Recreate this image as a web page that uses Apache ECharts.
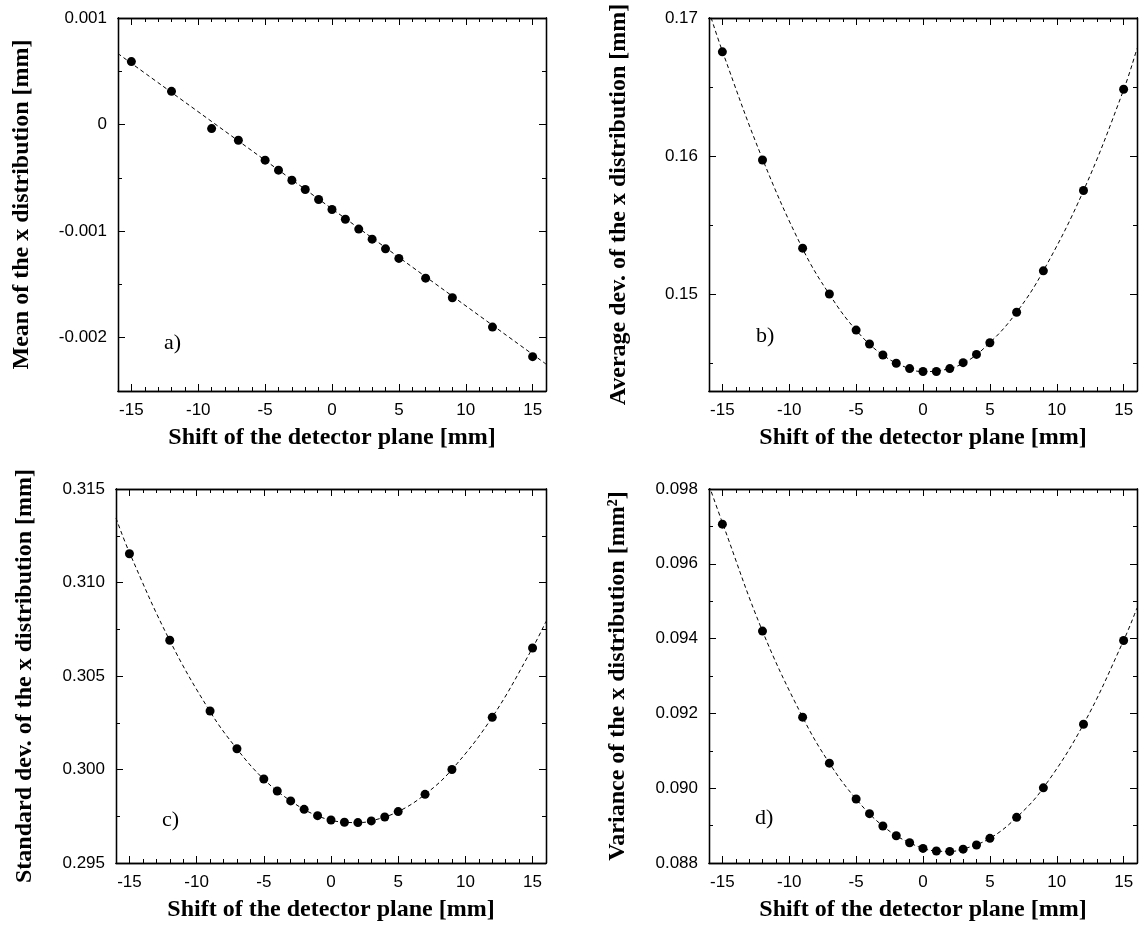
<!DOCTYPE html>
<html>
<head>
<meta charset="utf-8">
<script src="https://cdn.jsdelivr.net/npm/echarts@6/dist/echarts.min.js"></script>
<style>
  html, body { margin: 0; background: #fff; }
  #chart { width: 1139px; height: 927px; }
</style>
</head>
<body>
<div id="chart"></div>
<script>
// measured shift positions [mm]
const shift = [-15, -12, -9, -7, -5, -4, -3, -2, -1, 0, 1, 2, 3, 4, 5, 7, 9, 12, 15];

// a) mean of x distribution
const meanX = [0.000591, 0.000312, -0.000038, -0.000147, -0.000334, -0.000428, -0.000522, -0.000609,
  -0.000703, -0.000797, -0.000888, -0.000981, -0.001075, -0.001166, -0.001256, -0.001441, -0.001625,
  -0.0019, -0.002178];
const meanFitX = [-16, 16];
const meanFitY = [0.000666, -0.002247];

// b) average deviation
const avgDev = [0.16755, 0.15972, 0.15334, 0.15002, 0.14741, 0.1464, 0.14561, 0.14501, 0.14462, 0.14441,
  0.14441, 0.14462, 0.14505, 0.14565, 0.14649, 0.1487, 0.1517, 0.15751, 0.16484];
const avgFitX = [-16, -15, -12, -9, -7, -5, -3, -1, 0, 1, 3, 5, 7, 9, 12, 15, 16];
const avgFitY = [0.1705, 0.1676, 0.1598, 0.1533, 0.15, 0.1474, 0.1456, 0.1446, 0.1444, 0.14445, 0.145,
  0.1465, 0.1487, 0.1517, 0.1575, 0.1648, 0.1678];

// c) standard deviation
const stdDev = [0.31154, 0.30691, 0.30313, 0.30111, 0.29949, 0.29885, 0.29832, 0.29787, 0.29753, 0.2973,
  0.29718, 0.29716, 0.29725, 0.29746, 0.29775, 0.29867, 0.3, 0.30279, 0.3065];
const stdFitX = [-16, -15, -12, -9, -7, -5, -3, -1, 1, 2, 3, 5, 7, 9, 12, 15, 16];
const stdFitY = [0.31345, 0.3116, 0.3069, 0.3031, 0.3011, 0.29948, 0.29832, 0.29752, 0.29718, 0.29716,
  0.29725, 0.29775, 0.29867, 0.3, 0.3028, 0.3065, 0.30792];

// d) variance
const variance = [0.09706, 0.0942, 0.0919, 0.09067, 0.08971, 0.08932, 0.08899, 0.08873, 0.08854, 0.08839,
  0.08832, 0.08831, 0.08837, 0.08848, 0.08866, 0.08922, 0.09001, 0.09171, 0.09395];
const varFitX = [-16, -15, -12, -9, -7, -5, -3, -1, 1, 2, 3, 5, 7, 9, 12, 15, 16];
const varFitY = [0.0981, 0.0971, 0.0942, 0.0919, 0.09067, 0.08971, 0.08899, 0.08854, 0.08832, 0.08831,
  0.08837, 0.08866, 0.08922, 0.09001, 0.09171, 0.09395, 0.09482];

// tick labels
const xMajor = [-15, -10, -5, 0, 5, 10, 15];
const xMinor = [-16, -15, -14, -13, -12, -11, -10, -9, -8, -7, -6, -5, -4, -3, -2, -1, 0,
  1, 2, 3, 4, 5, 6, 7, 8, 9, 10, 11, 12, 13, 14, 15, 16];
const yMajorA = [-0.002, -0.001, 0, 0.001];
const yMinorA = [-0.0025, -0.0015, -0.0005, 0.0005];
const yMajorB = [0.15, 0.16, 0.17];
const yMinorB = [0.145, 0.155, 0.165];
const yMajorC = [0.295, 0.3, 0.305, 0.31, 0.315];
const yMinorC = [0.2975, 0.3025, 0.3075, 0.3125];
const yMajorD = [0.088, 0.09, 0.092, 0.094, 0.096, 0.098];
const yMinorD = [0.089, 0.091, 0.093, 0.095, 0.097];

const xName = 'Shift of the detector plane [mm]';

const panels = [
  { tag: 'a)', left: 118, top: 18, w: 428, h: 373, ymin: -0.0025, ymax: 0.001,
    yMajor: yMajorA, yMinor: yMinorA, fmt: v => String(+v.toFixed(4)),
    yName: 'Mean of the x distribution [mm]', yGap: 84,
    pts: meanX, fitX: meanFitX, fitY: meanFitY, tagPos: [159, 327] },
  { tag: 'b)', left: 709, top: 18, w: 428, h: 373, ymin: 0.143, ymax: 0.17,
    yMajor: yMajorB, yMinor: yMinorB, fmt: v => v.toFixed(2),
    yName: 'Average dev. of the x distribution [mm]', yGap: 78,
    pts: avgDev, fitX: avgFitX, fitY: avgFitY, tagPos: [751, 320] },
  { tag: 'c)', left: 116, top: 489, w: 430, h: 374, ymin: 0.295, ymax: 0.315,
    yMajor: yMajorC, yMinor: yMinorC, fmt: v => v.toFixed(3),
    yName: 'Standard dev. of the x distribution [mm]', yGap: 79,
    pts: stdDev, fitX: stdFitX, fitY: stdFitY, tagPos: [157, 804] },
  { tag: 'd)', left: 709, top: 489, w: 428, h: 374, ymin: 0.088, ymax: 0.098,
    yMajor: yMajorD, yMinor: yMinorD, fmt: v => v.toFixed(3),
    yName: 'Variance of the x distribution [mm\u00b2]', yGap: 79,
    pts: variance, fitX: varFitX, fitY: varFitY, tagPos: [750, 802] }
];

const nameStyle = { fontFamily: 'Liberation Serif', fontWeight: 'bold', fontSize: 24, color: '#000' };

function axis(gridIndex, pos, min, max, ticks, len, labels, fmt) {
  return {
    type: 'value', gridIndex: gridIndex, position: pos, min: min, max: max,
    splitLine: { show: false },
    axisLine: { show: true, onZero: false, lineStyle: { color: '#000', width: 1.3 } },
    axisTick: { show: true, inside: true, length: len, customValues: ticks,
      lineStyle: { color: '#000', width: 1 } },
    axisLabel: labels
      ? { show: true, customValues: labels, formatter: fmt, color: '#000',
          fontFamily: 'Liberation Sans', fontSize: 17, margin: 11 }
      : { show: false }
  };
}

const option = { animation: false, backgroundColor: '#fff', grid: [], xAxis: [], yAxis: [], series: [], title: [] };

panels.forEach((p, i) => {
  option.grid.push({ left: p.left, top: p.top, width: p.w, height: p.h });

  const xi = option.xAxis.length;
  const xMain = axis(i, 'bottom', -16, 16, xMajor, 7, xMajor, v => String(v));
  xMain.name = xName;
  xMain.nameLocation = 'middle';
  xMain.nameGap = 35;
  xMain.nameTextStyle = nameStyle;
  option.xAxis.push(xMain);
  option.xAxis.push(axis(i, 'bottom', -16, 16, xMinor, 4));
  option.xAxis.push(axis(i, 'top', -16, 16, xMajor, 7));
  option.xAxis.push(axis(i, 'top', -16, 16, xMinor, 4));

  const yi = option.yAxis.length;
  const yMain = axis(i, 'left', p.ymin, p.ymax, p.yMajor, 7, p.yMajor, p.fmt);
  yMain.name = p.yName;
  yMain.nameLocation = 'middle';
  yMain.nameGap = p.yGap;
  yMain.nameTextStyle = nameStyle;
  option.yAxis.push(yMain);
  option.yAxis.push(axis(i, 'left', p.ymin, p.ymax, p.yMinor, 4));
  option.yAxis.push(axis(i, 'right', p.ymin, p.ymax, p.yMajor, 7));
  option.yAxis.push(axis(i, 'right', p.ymin, p.ymax, p.yMinor, 4));

  option.series.push({
    type: 'line', xAxisIndex: xi, yAxisIndex: yi,
    data: p.fitX.map((x, k) => [x, p.fitY[k]]),
    smooth: 0.4, showSymbol: false, symbol: 'none', clip: true,
    lineStyle: { color: '#000', width: 1, type: [4, 3] },
    silent: true, z: 2
  });
  option.series.push({
    type: 'scatter', xAxisIndex: xi, yAxisIndex: yi,
    data: shift.map((x, k) => [x, p.pts[k]]),
    symbol: 'circle', symbolSize: 9,
    itemStyle: { color: '#000', opacity: 1 }, z: 3
  });

  option.title.push({
    text: p.tag, left: p.tagPos[0], top: p.tagPos[1],
    textStyle: { fontFamily: 'Liberation Serif', fontWeight: 'normal', fontSize: 22, color: '#000' }
  });
});

const chart = echarts.init(document.getElementById('chart'));
chart.setOption(option);
</script>
</body>
</html>
